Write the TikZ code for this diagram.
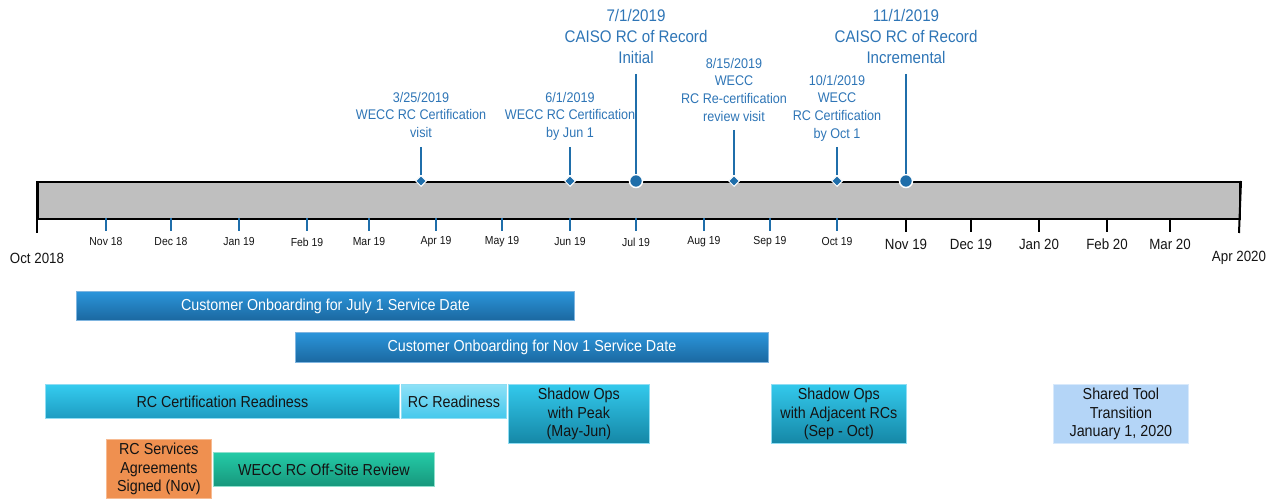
\documentclass[tikz,border=0pt]{standalone}
\usepackage{fontspec}
\setmainfont{Liberation Sans}[FakeStretch=0.9]
\usetikzlibrary{shapes.geometric}
\definecolor{msblue}{HTML}{2E75B6}
\definecolor{stemblue}{HTML}{1F6EAA}
\definecolor{bargray}{HTML}{BFBFBF}
\definecolor{txtdark}{HTML}{141414}
\definecolor{cobtop}{HTML}{2B95DB}
\definecolor{cobbot}{HTML}{1B68A0}
\definecolor{cobline}{HTML}{7FB5E0}
\definecolor{cytop}{HTML}{35CCEF}
\definecolor{cybot}{HTML}{1D9CC2}
\definecolor{sdtop}{HTML}{33C9EC}
\definecolor{sdbot}{HTML}{1587A6}
\definecolor{lctop}{HTML}{8DE1F7}
\definecolor{lcbot}{HTML}{45C8EC}
\definecolor{cyline}{HTML}{8FDDF3}
\definecolor{grtop}{HTML}{24CBA7}
\definecolor{grbot}{HTML}{17977C}
\definecolor{grline}{HTML}{8EE0CD}
\definecolor{orfill}{HTML}{EF9050}
\definecolor{orline}{HTML}{F7BB92}
\definecolor{stfill}{HTML}{B4D5F7}
\definecolor{stline}{HTML}{D8E9FB}
\tikzset{
  box/.style={anchor=north west, inner sep=0pt, align=center, text=txtdark,
    font=\fontsize{15.9}{18.5}\selectfont, line width=0.8pt},
  cob/.style={box, text=white, top color=cobtop, bottom color=cobbot, draw=cobline},
  cyb/.style={box, top color=cytop, bottom color=cybot, draw=cyline},
  sdb/.style={box, top color=sdtop, bottom color=sdbot, draw=cyline},
  lcb/.style={box, top color=lctop, bottom color=lcbot, draw=cyline},
  grb/.style={box, top color=grtop, bottom color=grbot, draw=grline},
  orb/.style={box, fill=orfill, draw=orline},
  stb/.style={box, fill=stfill, draw=stline},
  mssmall/.style={anchor=north, inner sep=0pt, align=center, text=msblue,
    font=\fontsize{14}{17.6}\selectfont},
  mslarge/.style={anchor=north, inner sep=0pt, align=center, text=msblue,
    font=\fontsize{16.8}{21.2}\selectfont},
  stem/.style={draw=stemblue, line width=2pt},
  dmark/.style={diamond, fill=stemblue, draw=white, line width=1pt, inner sep=0pt, minimum size=11pt},
  cmark/.style={circle, fill=stemblue, draw=white, line width=1.5pt, inner sep=0pt, minimum size=13pt},
  tlab/.style={inner sep=0pt, text=txtdark, font=\fontsize{11.6}{13}\selectfont},
  tlabbig/.style={inner sep=0pt, text=txtdark, font=\fontsize{14.8}{16}\selectfont},
  btick/.style={draw=stemblue, line width=1.6pt},
  ktick/.style={draw=black, line width=2pt},
}
\begin{document}
\begin{tikzpicture}[x=1pt,y=-1pt]
\useasboundingbox (0,0) rectangle (1279,502);
% timeline bar
\node[draw=black, line width=2pt, fill=bargray, inner sep=0pt, minimum width=1202pt, minimum height=37pt, anchor=north west] (bar) at (37,181) {};
\coordinate (lend) at (37,233);
\coordinate (rend) at (1239,233);
\draw[ktick] (bar.north west) -- (lend);
\draw[ktick] (bar.north east) -- (rend);
\node[tlabbig] (l0) at (37,258) {Oct 2018};
\node[tlabbig] (l18) at (1239,258) {Apr 2020};
% blue ticks
\foreach \x/\t [count=\i] in {106/Nov 18,171/Dec 18,239/Jan 19,307/Feb 19,369/Mar 19,436/Apr 19,502/May 19,570/Jun 19,636/Jul 19,704/Aug 19,770/Sep 19,837/Oct 19}{
  \coordinate (ta\i) at (\x,218);
  \coordinate (tb\i) at (\x,231);
  \draw[btick] (ta\i) -- (tb\i);
  \node[tlab] (lb\i) at (\x,242) {\t};
}
% black ticks
\foreach \x/\t [count=\i] in {906/Nov 19,971/Dec 19,1039/Jan 20,1107/Feb 20,1170/Mar 20}{
  \coordinate (ka\i) at (\x,218);
  \coordinate (kb\i) at (\x,232);
  \draw[ktick] (ka\i) -- (kb\i);
  \node[tlabbig] (lk\i) at (\x,244) {\t};
}
% milestones
\node[mssmall] (t1) at (421,92) {3/25/2019\\WECC RC Certification\\visit};
\coordinate (s1) at (421,147);
\node[dmark] (m1) at (421,181) {};
\draw[stem] (s1) -- (m1);

\node[mssmall] (t2) at (570,92) {6/1/2019\\WECC RC Certification\\by Jun 1};
\coordinate (s2) at (570,147);
\node[dmark] (m2) at (570,181) {};
\draw[stem] (s2) -- (m2);

\node[mslarge] (t3) at (636,9) {7/1/2019\\CAISO RC of Record\\Initial};
\coordinate (s3) at (636,74);
\node[cmark] (m3) at (636,181) {};
\draw[stem] (s3) -- (m3);

\node[mssmall] (t4) at (734,58) {8/15/2019\\WECC\\RC Re-certification\\review visit};
\coordinate (s4) at (734,130);
\node[dmark] (m4) at (734,181) {};
\draw[stem] (s4) -- (m4);

\node[mssmall] (t5) at (837,75) {10/1/2019\\WECC\\RC Certification\\by Oct 1};
\coordinate (s5) at (837,147);
\node[dmark] (m5) at (837,181) {};
\draw[stem] (s5) -- (m5);

\node[mslarge] (t6) at (906,9) {11/1/2019\\CAISO RC of Record\\Incremental};
\coordinate (s6) at (906,74);
\node[cmark] (m6) at (906,181) {};
\draw[stem] (s6) -- (m6);

% activity boxes
\node[cob, minimum width=498pt, minimum height=29pt] (cj) at (76,291) {Customer Onboarding for July 1 Service Date};
\node[cob, minimum width=473pt, minimum height=30pt] (cn) at (295,332) {Customer Onboarding for Nov 1 Service Date};
\node[cyb, minimum width=354pt, minimum height=34pt] (rcr) at (45,384) {RC Certification Readiness};
\node[lcb, minimum width=105pt, minimum height=34pt] (rr) at (401,384) {RC Readiness};
\node[sdb, minimum width=141pt, minimum height=59pt] (sp) at (508,384) {Shadow Ops\\with Peak\\(May-Jun)};
\node[sdb, minimum width=135pt, minimum height=59pt] (sa) at (771,384) {Shadow Ops\\with Adjacent RCs\\(Sep - Oct)};
\node[stb, minimum width=135pt, minimum height=59pt] (st) at (1053,384) {Shared Tool\\Transition\\January 1, 2020};
\node[orb, minimum width=105pt, minimum height=59pt] (ors) at (106,439) {RC Services\\Agreements\\Signed (Nov)};
\node[grb, minimum width=221pt, minimum height=34pt] (gr) at (213,452) {WECC RC Off-Site Review};
\end{tikzpicture}
\end{document}
